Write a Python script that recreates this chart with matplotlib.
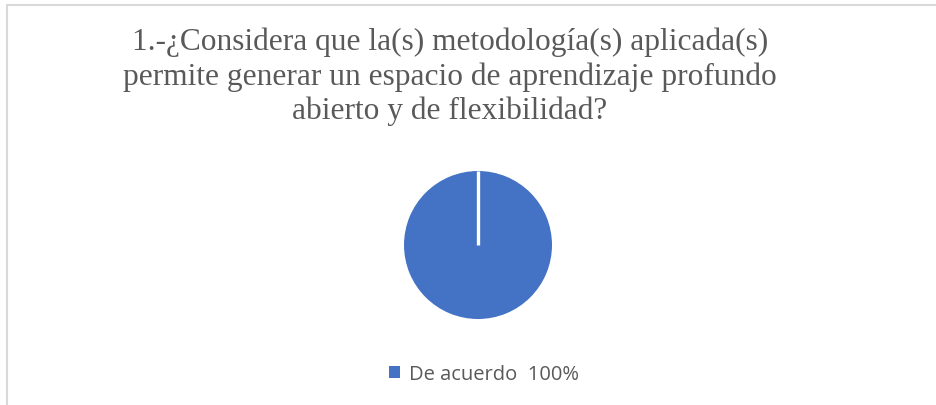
import matplotlib.pyplot as plt
from matplotlib.patches import Rectangle

title_lines = [
    "1.-¿Considera que la(s) metodología(s) aplicada(s)",
    "permite generar un espacio de aprendizaje profundo",
    "abierto y de flexibilidad?",
]
categories = ["De acuerdo  100%"]
values = [100]
colors = ["#4472C4"]

W, H = 936, 406
fig = plt.figure(figsize=(W / 100, H / 100), dpi=100)
fig.patch.set_facecolor("white")

# chart frame (right and bottom edges fall outside the crop)
fig.patches.append(Rectangle((7.5 / W, -0.1), 1.2, 1.1 - 5.5 / H, transform=fig.transFigure,
                             fill=False, edgecolor="#d9d9d9", linewidth=1.5))

fig.text(450 / W, 1 - 77 / H, "\n".join(title_lines), ha="center", va="center",
         fontsize=22.6, family="Liberation Serif", color="#595959", linespacing=1.23)

cx, cy, r = 478, 406 - 246, 74
ax = fig.add_axes([(cx - r) / W, (cy - r) / H, 2 * r / W, 2 * r / H])
wedges, _ = ax.pie(values, colors=colors, startangle=90, counterclock=False,
                   wedgeprops=dict(edgecolor="none"))
# a full wedge has no radial edge, so draw the slice boundary by hand
w = wedges[0]
ax.plot([w.center[0], w.center[0]], [w.center[1], w.center[1] + w.r],
        color="white", linewidth=2.4, solid_capstyle="butt")
ax.set_xlim(-1, 1)
ax.set_ylim(-1, 1)
ax.set_aspect("equal")
ax.axis("off")

fig.legend(wedges, categories, loc="center", bbox_to_anchor=(484 / W, 1 - 375 / H),
           frameon=False, handlelength=0.55, handleheight=0.55,
           handletextpad=0.45, labelcolor="#595959",
           prop={"family": "Open Sans", "size": 14.5})

fig.savefig("out.png", dpi=100)
